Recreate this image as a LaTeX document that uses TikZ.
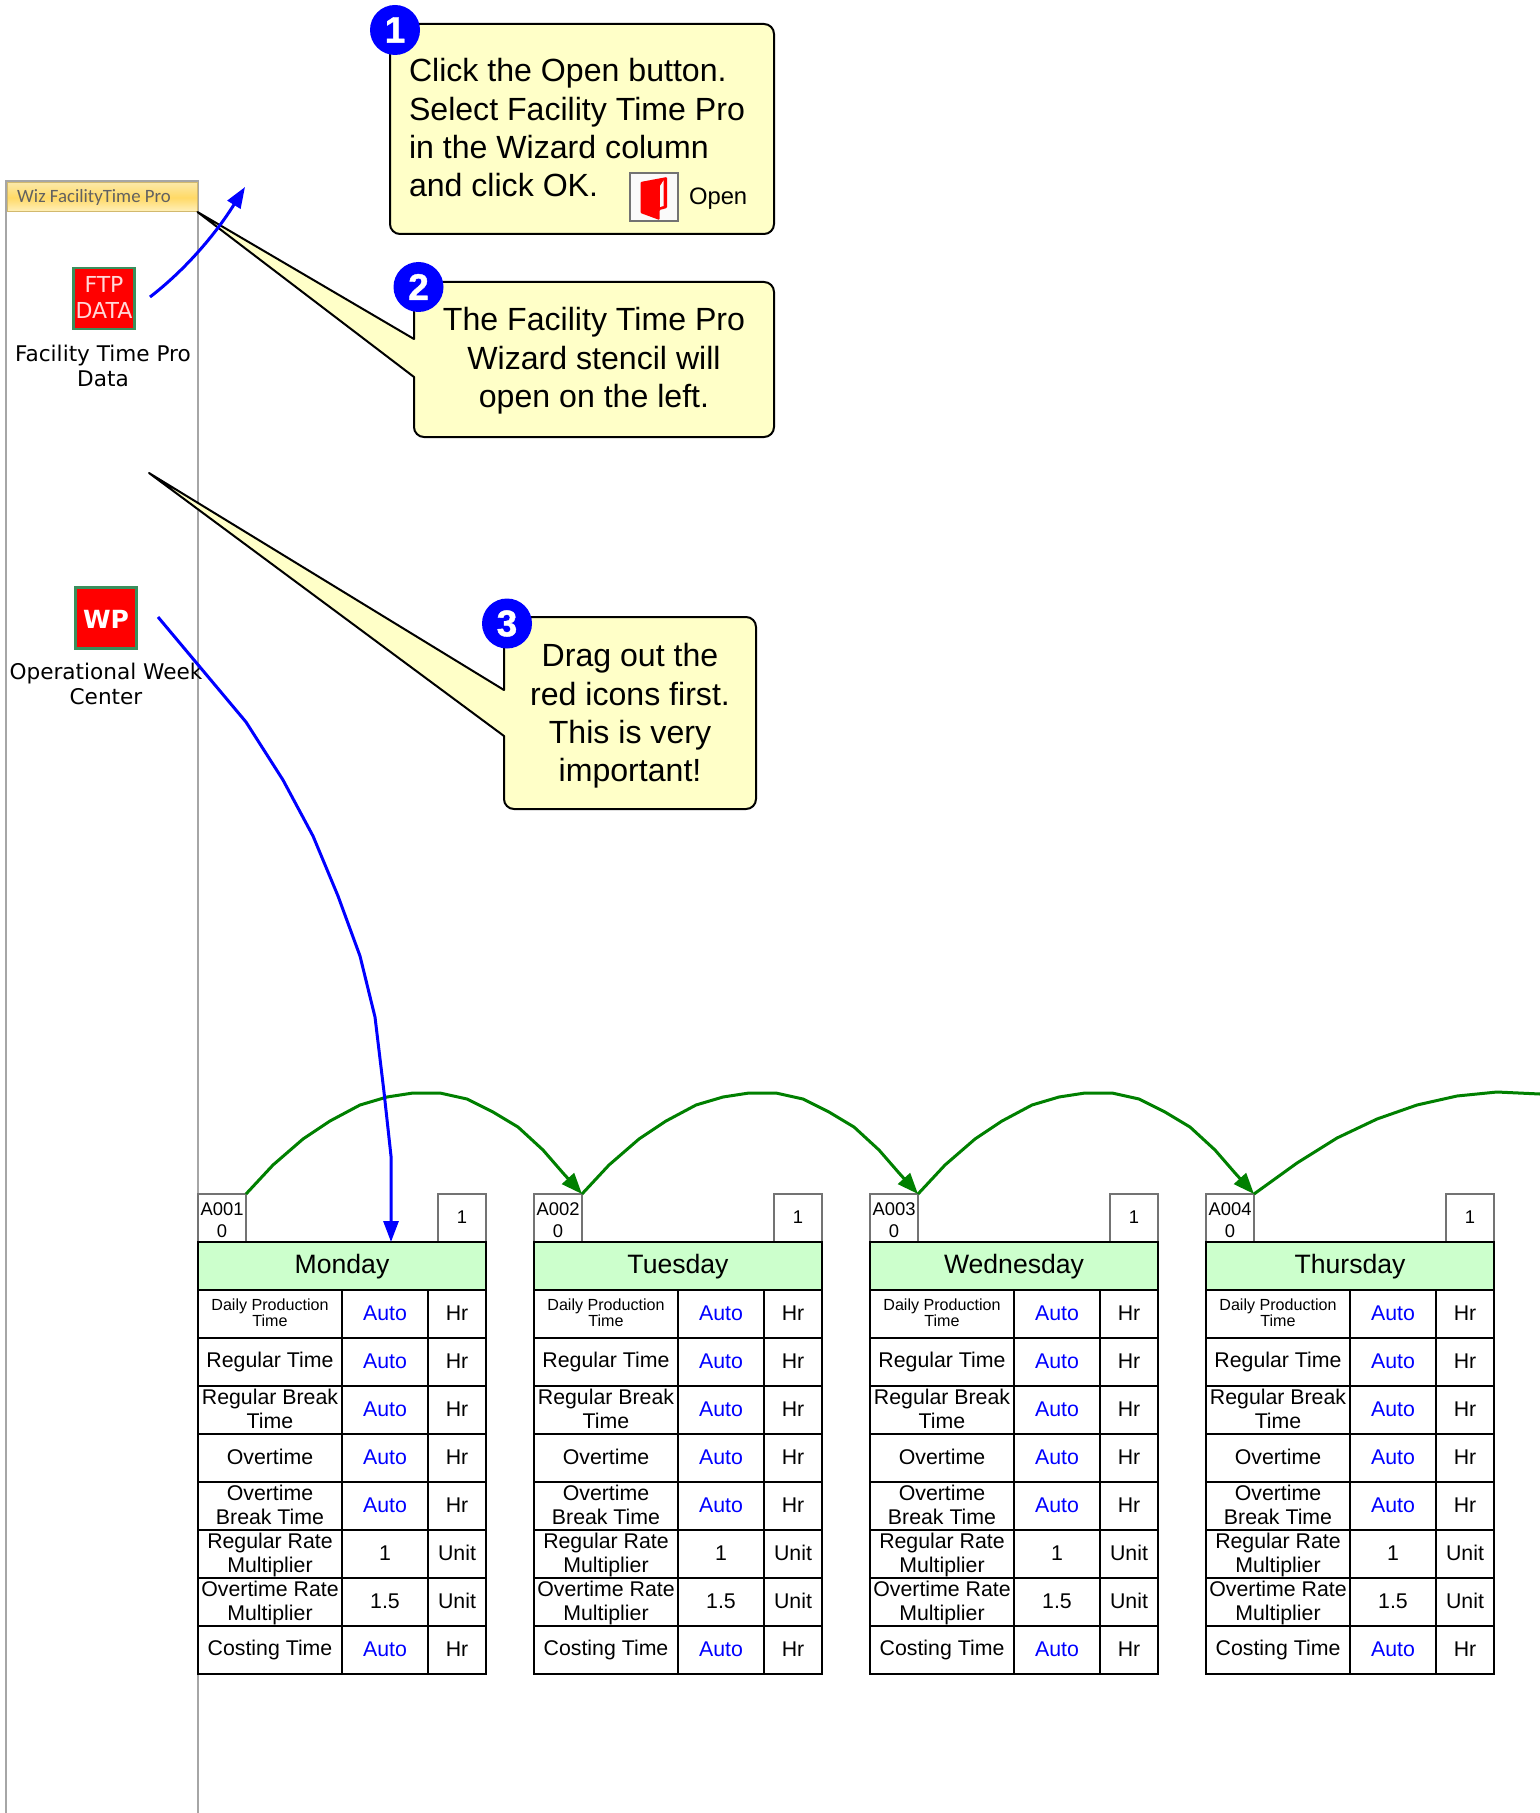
\documentclass[tikz,border=0pt]{standalone}
\usepackage{fontspec}
\setmainfont{Liberation Sans}
\newfontfamily\dejavu{DejaVu Sans}
\newfontfamily\carlito{Carlito}
\newfontfamily\badgefont[FakeBold=1.2]{Liberation Sans Bold}
\usetikzlibrary{arrows.meta,calc}
\newcommand{\pxfont}[2]{\fontsize{#1}{#2}\selectfont}
\definecolor{calloutfill}{HTML}{FFFFC8}
\definecolor{headgreen}{HTML}{CCFFCC}
\definecolor{iconedge}{HTML}{3A8F5C}
\definecolor{sidegray}{HTML}{A6A6A6}
\definecolor{arrowgreen}{HTML}{008000}
\definecolor{wiztop}{HTML}{FBE8A6}
\definecolor{wizmid}{HTML}{FFD966}
\definecolor{wizbot}{HTML}{FFF1BE}
\definecolor{wizedge}{HTML}{D2B96E}
\tikzset{
  x=0.5pt,y=-0.5pt,
  every node/.style={inner sep=0pt,outer sep=0pt,text=black},
  cellstrut/.style 2 args={execute at begin node={\rule{0pt}{#1}},execute at end node={\rule[-#2]{0pt}{#2}}},
  callout/.style={draw=black,line width=1pt,fill=calloutfill,line join=round},
  callouttext/.style={font=\pxfont{16.05}{19.2},align=center},
  badge/.style={circle,fill=blue,minimum size=25pt,text=white,font=\badgefont\pxfont{18.5}{20}},
  daycell/.style={draw=black,line width=1pt,anchor=north west,align=center,font=\pxfont{10.65}{12},cellstrut={7.7pt}{1pt}},
  labelcell/.style={daycell,minimum width=72pt,minimum height=24pt},
  twoline/.style={labelcell,cellstrut={20.9pt}{2.3pt}},
  smalllabel/.style={labelcell,font=\pxfont{8.05}{8.35},cellstrut={14.65pt}{1.7pt}},
  valcell/.style={daycell,minimum width=43pt,minimum height=24pt},
  unitcell/.style={daycell,minimum width=29pt,minimum height=24pt},
  autotext/.style={text=blue},
  headcell/.style={draw=black,line width=1pt,fill=headgreen,anchor=north west,minimum width=144pt,minimum height=24pt,font=\pxfont{13.3}{14},cellstrut={10.5pt}{0.8pt}},
  tabbase/.style={draw=black!55,line width=0.7pt,anchor=north west,minimum width=24pt,minimum height=24pt,align=center,font=\pxfont{9.2}{10.85}},
  tabcell/.style={tabbase,cellstrut={19.5pt}{0.2pt}},
  tabone/.style={tabbase,cellstrut={7pt}{1.1pt}},
  sidelabel/.style={font=\dejavu\pxfont{10.8}{12.6},align=center},
  redicon/.style={draw=iconedge,line width=1.1pt,fill=red,minimum size=30.5pt,anchor=center},
  bluearrow/.style={draw=blue,line width=1.5pt,line join=round,-{Triangle[length=10.5pt,width=7.5pt]}},
  greenarrow/.style={draw=arrowgreen,line width=1.5pt,line join=round},
  greentip/.style={greenarrow,-{Triangle[length=10.5pt,width=8pt]}},
}
\begin{document}
\begin{tikzpicture}
\useasboundingbox (0,0) rectangle (1540,1813);
\fill[white] (0,0) rectangle (1540,1813);

% wizard stencil panel
\draw[sidegray,line width=1pt] (6,1813) -- (6,181.5) -- (198,181.5) -- (198,1813);
\node[draw=wizedge,line width=0.5pt,top color=wiztop,bottom color=wizbot,middle color=wizmid,minimum width=95pt,minimum height=14.5pt,anchor=north west] (wizhead) at (7.5,183) {};
\node[font=\carlito\pxfont{9.4}{12},text=black!62] (wiztext) at (94,197) {Wiz FacilityTime Pro};

\node[redicon] (ftpicon) at (104,298.5) {};
\node[font=\dejavu\pxfont{11}{12.6},text=red!15!white,align=center] (ftptext) at (104,297.5) {FTP\\DATA};
\node[sidelabel] (ftplabel) at (103,366) {Facility Time Pro\\Data};
\node[redicon] (wpicon) at (106,618) {};
\node[font=\dejavu\pxfont{12.5}{14}\bfseries,text=white] (wptext) at (106,619) {WP};
\node[sidelabel] (wplabel) at (106,684) {Operational Week\\Center};

% day tables
\foreach \tx/\nm/\txt/\num in {198/mon/Monday/1,534/tue/Tuesday/2,870/wed/Wednesday/3,1206/thu/Thursday/4}{
  \node[tabcell] (\nm id) at (\tx,1194) {A00\num\\0};
  \node[tabone] (\nm one) at (\tx+240,1194) {1};
  \node[headcell] (\nm head) at (\tx,1242) {\txt};
  \foreach \r/\lab/\val/\unit/\sty/\vsty in {
    0/{Daily Production\\Time}/Auto/Hr/smalllabel/autotext,
    1/{Regular Time}/Auto/Hr/labelcell/autotext,
    2/{Regular Break\\Time}/Auto/Hr/twoline/autotext,
    3/{Overtime}/Auto/Hr/labelcell/autotext,
    4/{Overtime\\Break Time}/Auto/Hr/twoline/autotext,
    5/{Regular Rate\\Multiplier}/1/Unit/twoline/daycell,
    6/{Overtime Rate\\Multiplier}/1.5/Unit/twoline/daycell,
    7/{Costing Time}/Auto/Hr/labelcell/autotext}{
    \node[\sty] (\nm lab\r) at (\tx,1290+48*\r) {\lab};
    \node[valcell,\vsty] (\nm val\r) at (\tx+144,1290+48*\r) {\val};
    \node[unitcell] (\nm unit\r) at (\tx+230,1290+48*\r) {\unit};
  }
}

% green day-to-day arcs
\foreach \a/\b in {mon/tue,tue/wed,wed/thu}{
  \coordinate (s) at (\a id.north east);
  \draw[greentip] (s) -- ($(s)+(27,-29)$) -- ($(s)+(57,-55)$) -- ($(s)+(84,-73)$) -- ($(s)+(114,-89)$) -- ($(s)+(141,-97)$) -- ($(s)+(167,-101)$) -- ($(s)+(194,-101)$) -- ($(s)+(221,-95)$) -- ($(s)+(247,-82)$) -- ($(s)+(272,-67)$) -- ($(s)+(297,-44)$) -- ($(s)+(317,-21)$) -- (\b id.north east);
}
\coordinate (endthu) at (1540,1094);
\draw[greenarrow] (thuid.north east) -- (1297,1163) -- (1337,1138) -- (1377,1119) -- (1417,1105) -- (1457,1096) -- (1497,1092) -- (endthu);

% callouts
\coordinate (tipa) at (wizhead.south east);
\coordinate (tipb) at (149,473);
\path[callout,rounded corners=5pt] (390,24) rectangle (774,234);
\draw[callout] (tipa) -- (414,339) [rounded corners=5pt] -- (414,282) -- (774,282) -- (774,437) -- (414,437) [sharp corners] -- (414,377) -- cycle;
\draw[callout] (tipb) -- (504,690) [rounded corners=5pt] -- (504,617) -- (756,617) -- (756,809) -- (504,809) [sharp corners] -- (504,736) -- cycle;

\node[callouttext,align=left,anchor=north west] (ctext1) at (409,58.5) {Click the Open button.\\Select Facility Time Pro\\in the Wizard column\\and click OK.};
\node[callouttext] (ctext2) at (594,361) {The Facility Time Pro\\Wizard stencil will\\open on the left.};
\node[callouttext] (ctext3) at (630,716) {Drag out the\\red icons first.\\This is very\\important!};

% open button
\node[draw=black!55,line width=0.6pt,fill=black!2,minimum size=24pt,anchor=north west] (openbtn) at (630,173) {};
\fill[red,rounded corners=0.5pt] (640.5,182) -- (667,177) -- (667,208) -- (659.5,210) -- (659.5,220) -- (640.5,213) -- cycle;
\fill[black!2] (660,186) -- (663.5,180.5) -- (663.5,206) -- (660,207) -- cycle;
\node[font=\pxfont{11.9}{13},anchor=base west] (opentext) at (689,205) {Open};

\node[badge] (b1) at (395,30) {1};
\node[badge] (b2) at (418.5,287) {2};
\node[badge] (b3) at (507,623.5) {3};

% blue drag arrows
\coordinate (fromftp) at (150,297);
\coordinate (toopen) at (245,187);
\coordinate (fromwp) at (158,617);
\draw[bluearrow] (fromftp) .. controls (185,270) and (215,235) .. (toopen);
\draw[bluearrow] (fromwp) -- (246,722) -- (283,780) -- (313,836) -- (338,896) -- (360,956) -- (375,1017) -- (384,1092) -- (391,1156) -- (391,1196) -- (391,1242);
\end{tikzpicture}
\end{document}
